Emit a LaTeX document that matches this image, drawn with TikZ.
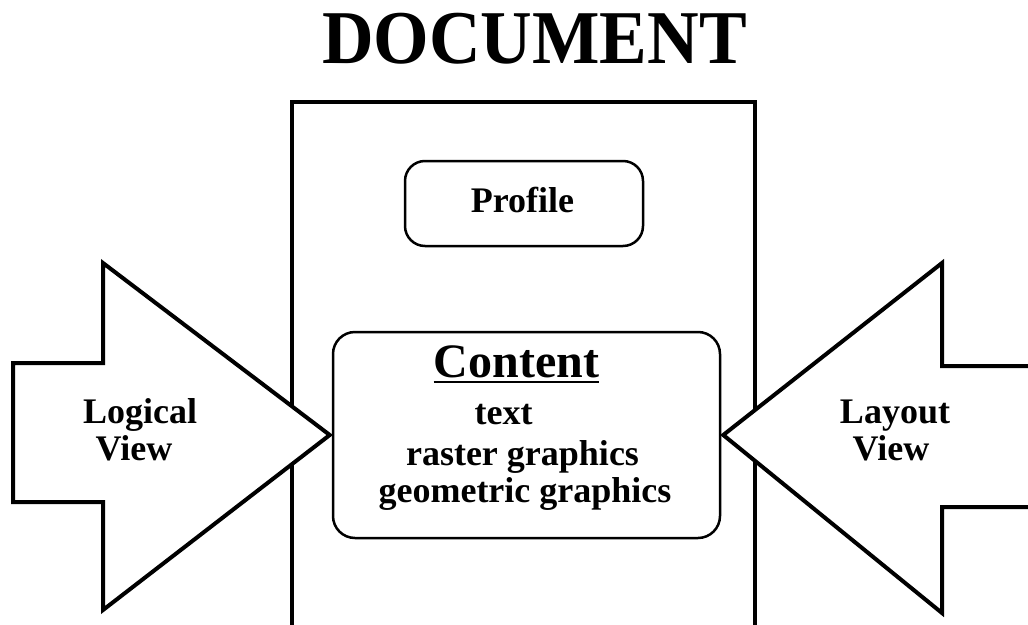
\documentclass[tikz,border=0pt]{standalone}
\usepackage{fontspec}
\setmainfont{Liberation Serif}
\begin{document}
\begin{tikzpicture}[x=1pt,y=-1pt,
  txt/.style={font=\bfseries\fontsize{36}{37}\selectfont, inner sep=0pt, anchor=base},
  headline/.style={font=\bfseries\fontsize{76}{80}\selectfont, inner sep=0pt, anchor=base},
  subhead/.style={font=\bfseries\fontsize{48}{50}\selectfont, inner sep=0pt, anchor=base},
  pagebox/.style={draw, line width=4pt, inner sep=0pt, rectangle},
  partbox/.style={draw, line width=2.5pt, inner sep=0pt, rectangle, rounded corners=22pt, fill=white},
  viewarrow/.style={draw, line width=4pt, fill=white, line join=miter},
]
\useasboundingbox (0,0) rectangle (1028,624);
\clip (0,0) rectangle (1028,624);

% title
\node[headline, xscale=0.94] (title) at (534.5,63) {DOCUMENT};

% the document page, running off the bottom edge
\node[pagebox, minimum width=463pt, minimum height=560pt] (page) at (523.5,382) {};

% profile part
\node[partbox, minimum width=238pt, minimum height=85pt, rounded corners=20pt] (profile) at (524,203.5) {};
\node[txt] (profiletxt) at (522.5,212) {Profile};

% content part
\node[partbox, minimum width=387pt, minimum height=206pt] (content) at (526.5,435) {};

% the two views pointing at the content
\draw[viewarrow] (13,363) -- (103,363) -- (103,263) -- ([xshift=-2pt]content.west)
  -- (103,610) -- (103,502) -- (13,502) -- cycle;
\draw[viewarrow] (1040,366) -- (942,366) -- (942,263) -- ([xshift=2pt]content.east)
  -- (942,613) -- (942,507) -- (1040,507);

% content labels
\node[subhead] (contentttl) at (516.5,377) {Content};
\draw[line width=2pt] ([yshift=-5pt]contentttl.base west) -- ([yshift=-5pt]contentttl.base east);
\node[txt] (ctext) at (503.5,424) {text};
\node[txt] (craster) at (522.5,465) {raster graphics};
\node[txt] (cgeom) at (525,502) {geometric graphics};

% view labels
\node[txt] (logical) at (140,423) {Logical};
\node[txt] (logicalview) at (134,460) {View};
\node[txt] (layout) at (895,423) {Layout};
\node[txt] (layoutview) at (891,460) {View};
\end{tikzpicture}
\end{document}
